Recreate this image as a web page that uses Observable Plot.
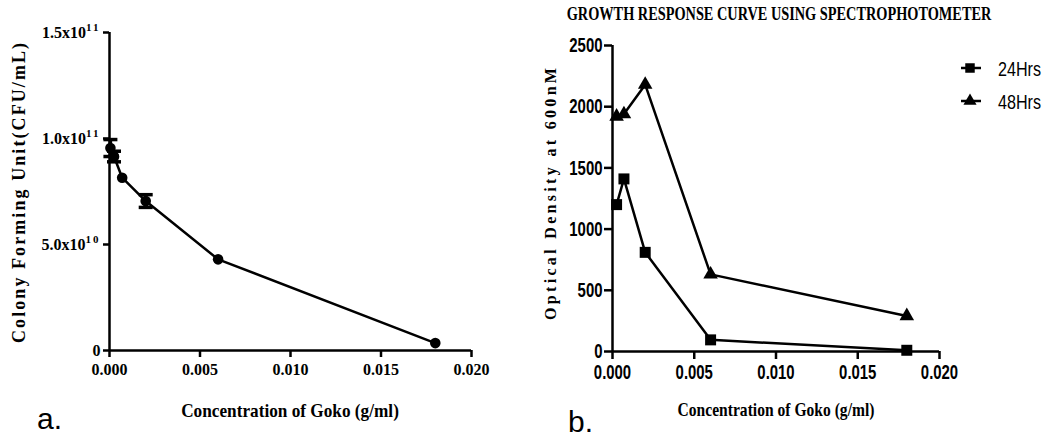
<!DOCTYPE html>
<html><head><meta charset="utf-8">
<script src="https://cdn.jsdelivr.net/npm/d3@7"></script>
<script src="https://cdn.jsdelivr.net/npm/@observablehq/plot@0.6"></script>
<style>
html,body{margin:0;padding:0;background:#fff;}
#wrap{position:relative;width:1049px;height:438px;overflow:hidden;background:#fff;}
#wrap svg{position:absolute;left:0;top:0;background:transparent;}
#wrap g[aria-label$="tick"] path{stroke-width:2.5px;}
</style></head><body><div id="wrap"></div>
<script>
// ---- Panel a data ----
const concA = [0.00005, 0.00025, 0.0007, 0.002, 0.006, 0.018];
const cfu = [9.55e10, 9.15e10, 8.15e10, 7.05e10, 4.3e10, 3.5e9];
const cfuErr = [4.0e9, 2.5e9, 0, 3.0e9, 0, 0];
const xTicks = [0, 0.005, 0.010, 0.015, 0.020];
const yTicksA = [0, 5e10, 1e11, 1.5e11];
const yTickLabelsA = ["0", "5.0x10^10", "1.0x10^11", "1.5x10^11"];
// ---- Panel b data ----
const concB = [0.00025, 0.0007, 0.002, 0.006, 0.018];
const od24 = [1200, 1410, 810, 95, 10];
const od48 = [1920, 1940, 2180, 630, 290];
const yTicksB = [0, 500, 1000, 1500, 2000, 2500];
const seriesNames = ["24Hrs", "48Hrs"];
const seriesSymbols = ["square", "triangle"];
// ---- Texts ----
const titleB = "GROWTH RESPONSE CURVE USING SPECTROPHOTOMETER";
const xTitle = "Concentration of Goko (g/ml)";
const yTitleA = "Colony Forming Unit(CFU/mL)";
const yTitleB = "Optical Density at 600nM";
const panelLabels = ["a.", "b."];

const W = 1049, H = 438;
const SERIF = "'Liberation Serif','Times New Roman',serif";
const SANS = "'Liberation Sans',Arial,sans-serif";
const wrap = document.getElementById("wrap");

function condense(svg, selector, ratio) {
  svg.querySelectorAll(selector).forEach(t => {
    const w = t.getComputedTextLength();
    t.setAttribute("textLength", (w * ratio).toFixed(1));
    t.setAttribute("lengthAdjust", "spacingAndGlyphs");
  });
}

const dataA = concA.map((c, i) => ({c, v: cfu[i], e: cfuErr[i]}));
const errA = dataA.filter(d => d.e > 0);
const capsA = errA.flatMap(d => [{c: d.c, v: d.v + d.e}, {c: d.c, v: d.v - d.e}]);
const capSymbol = {draw(ctx, size) { const r = Math.sqrt(size / Math.PI); ctx.moveTo(-r, 0); ctx.lineTo(r, 0); }};

const plotA = Plot.plot({
  width: W, height: H,
  marginLeft: 109, marginRight: W - 471, marginTop: 32, marginBottom: H - 350,
  style: {fontFamily: SERIF, fontSize: "16px", fontWeight: "bold", color: "black", background: "transparent"},
  x: {domain: [0, 0.02], label: null},
  y: {domain: [0, 1.5e11], label: null},
  marks: [
    Plot.axisX({ticks: xTicks, tickSize: 7, tickPadding: 6, tickFormat: d3.format(".3f"), label: null}),
    Plot.axisY({ticks: yTicksA, tickSize: 6, tickPadding: 3, tickFormat: d => yTickLabelsA[yTicksA.indexOf(d)], label: null}),
    Plot.ruleX([0], {stroke: "black", strokeWidth: 2.5}),
    Plot.ruleY([0], {stroke: "black", strokeWidth: 2.5}),
    Plot.line(dataA, {x: "c", y: "v", stroke: "black", strokeWidth: 2.5}),
    Plot.ruleX(errA, {x: "c", y1: d => d.v - d.e, y2: d => d.v + d.e, stroke: "black", strokeWidth: 3.5}),
    Plot.dot(capsA, {x: "c", y: "v", symbol: capSymbol, r: 7, stroke: "black", strokeWidth: 3.5}),
    Plot.dot(dataA, {x: "c", y: "v", r: 5.3, fill: "black", stroke: "none"})
  ]
});
wrap.appendChild(plotA);

// superscript exponents on panel a y ticks
plotA.querySelectorAll('g[aria-label="y-axis tick label"] text').forEach(t => {
  const s = t.textContent;
  if (s.includes("^")) {
    const [m, e] = s.split("^");
    t.textContent = "";
    const a = document.createElementNS("http://www.w3.org/2000/svg", "tspan");
    a.textContent = m;
    const b = document.createElementNS("http://www.w3.org/2000/svg", "tspan");
    b.textContent = e; b.setAttribute("dy", "-7"); b.setAttribute("font-size", "11");
    b.setAttribute("letter-spacing", "2");
    t.appendChild(a); t.appendChild(b);
  }
});

const dataB = seriesNames.flatMap((s, k) => concB.map((c, i) => ({s, c, v: (k === 0 ? od24 : od48)[i]})));

const plotB = Plot.plot({
  width: W, height: H,
  marginLeft: 612, marginRight: W - 939, marginTop: 45, marginBottom: H - 351,
  style: {fontFamily: SANS, fontSize: "21px", fontWeight: "bold", color: "black", background: "transparent"},
  x: {domain: [0, 0.02], label: null},
  y: {domain: [0, 2500], label: null},
  symbol: {domain: seriesNames, range: seriesSymbols},
  marks: [
    Plot.axisX({ticks: xTicks, tickSize: 8, tickPadding: 5, tickFormat: d3.format(".3f"), label: null}),
    Plot.axisY({ticks: yTicksB, tickSize: 8, tickPadding: 2, tickFormat: d3.format("d"), label: null}),
    Plot.ruleX([0], {stroke: "black", strokeWidth: 2.5}),
    Plot.ruleY([0], {stroke: "black", strokeWidth: 2.5}),
    Plot.line(dataB, {x: "c", y: "v", z: "s", stroke: "black", strokeWidth: 2.5}),
    Plot.dot(dataB, {filter: d => d.s === seriesNames[0], x: "c", y: "v", symbol: "s", r: 6.2, fill: "black", stroke: "none"}),
    Plot.dot(dataB, {filter: d => d.s === seriesNames[1], x: "c", y: "v", symbol: "s", r: 5.4, fill: "black", stroke: "none"})
  ]
});
wrap.appendChild(plotB);
condense(plotB, 'g[aria-label$="tick label"] text', 0.71);

// overlay: titles, axis titles, panel labels, legend
const ov = d3.select(wrap).append("svg").attr("width", W).attr("height", H);
function txt(x, y, s, o) {
  const g = ov.append("g").attr("transform", `translate(${x},${y})` + (o.rot ? " rotate(-90)" : ""));
  const t = g.append("text").attr("x", 0).attr("y", 0).text(s)
    .attr("font-family", o.ff || SERIF).attr("font-size", o.fs).attr("font-weight", o.fw || "bold")
    .attr("text-anchor", o.anchor || "middle").attr("dominant-baseline", o.db || "central").attr("fill", "black");
  if (o.len) {
    const natural = t.node().getComputedTextLength();
    if (o.adj === "spacing") {
      const ls = (o.len - natural) / (s.length - 1);
      t.attr("letter-spacing", ls.toFixed(2)).attr("x", ls / 2);
    } else {
      t.attr("transform", `scale(${(o.len / natural).toFixed(4)},1)`);
    }
  }
  return t;
}
txt(779, 14, titleB, {fs: 18, len: 425});
txt(290, 411, xTitle, {fs: 18, len: 218});
txt(776, 410, xTitle, {fs: 18, len: 197});
txt(19, 193, yTitleA, {fs: 18, len: 300, adj: "spacing", rot: true});
txt(550, 194, yTitleB, {fs: 16, len: 252, adj: "spacing", rot: true});
txt(37, 429, panelLabels[0], {ff: SANS, fs: 30, fw: "normal", anchor: "start", db: "auto"});
txt(568, 432, panelLabels[1], {ff: SANS, fs: 30, fw: "normal", anchor: "start", db: "auto"});

// legend
const legY = [68, 101];
seriesNames.forEach((s, k) => {
  const y = legY[k];
  ov.append("line").attr("x1", 961).attr("x2", 981).attr("y1", y).attr("y2", y).attr("stroke", "black").attr("stroke-width", 2.5);
  const sym = k === 0 ? d3.symbolSquare : d3.symbolTriangle;
  ov.append("path").attr("d", d3.symbol(sym, k === 0 ? 90 : 75)()).attr("transform", `translate(970,${y})`).attr("fill", "black");
  txt(998, y + 1, s, {ff: SANS, fs: 20, fw: "normal", anchor: "start", len: 43});
});
</script></body></html>
